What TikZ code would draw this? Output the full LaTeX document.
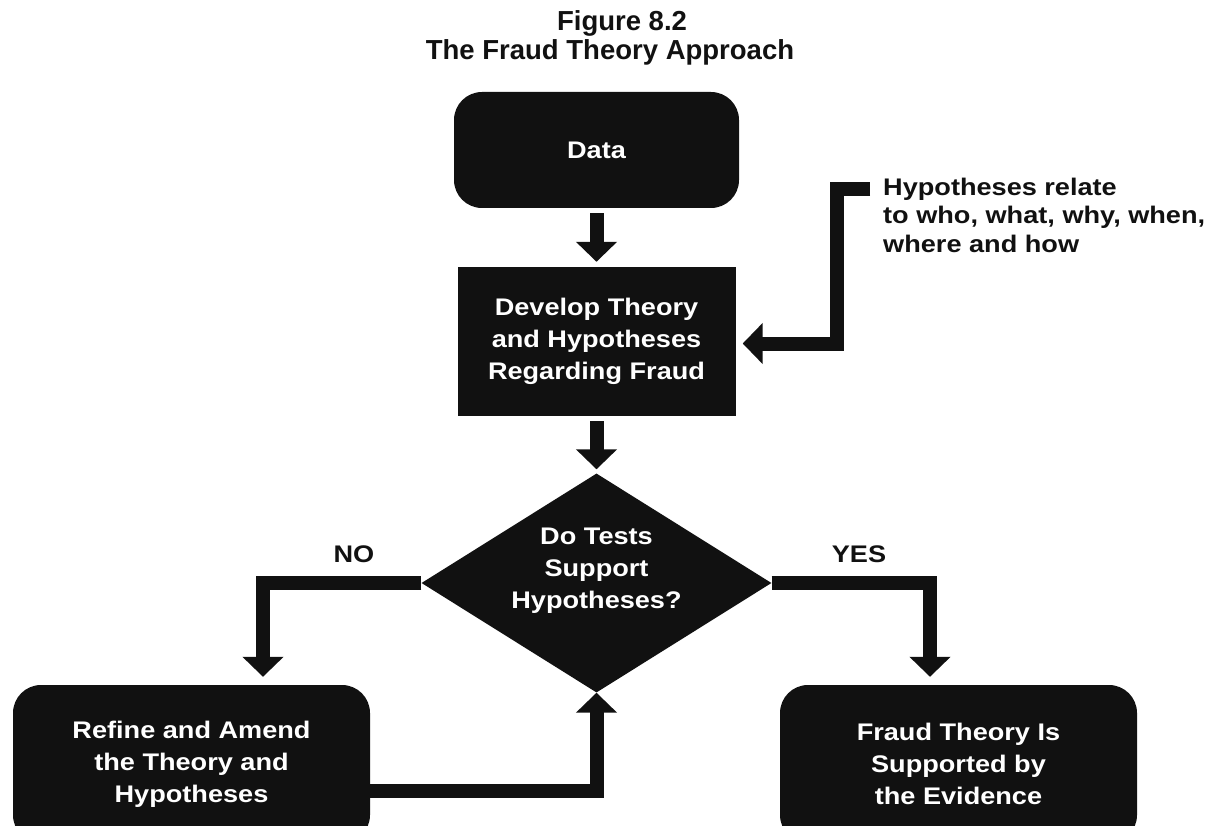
\documentclass[tikz,border=0pt]{standalone}
\usepackage{fontspec}
\setmainfont{Liberation Sans}[FakeStretch=1.13]
\newfontfamily\headfont{Liberation Sans}
\usetikzlibrary{arrows.meta,shapes.geometric}
\definecolor{ink}{HTML}{111111}

\begin{document}
\begin{tikzpicture}[x=1pt,y=-1pt,
  txt/.style={font=\bfseries\fontsize{24}{32}\selectfont},
  box/.style={fill=ink, text=white, txt, align=center, inner sep=0pt},
  rbox/.style={box, rounded corners=28pt},
  decision/.style={diamond, fill=ink, text=white, txt, inner sep=0pt,
    aspect=1.6, minimum width=350pt, minimum height=219pt},
  tag/.style={txt, text=ink, inner sep=0pt},
  head/.style={font=\headfont\bfseries\fontsize{27.5}{30}\selectfont, text=ink, inner sep=0pt},
  flow/.style={draw=ink, line width=14pt, -{Triangle[width=40pt,length=20pt]}},
]
% canvas
\fill[white] (0,0) rectangle (1212,826);
\useasboundingbox (0,0) rectangle (1212,826);

% title
\node[head, anchor=base] (title1) at (622,31) {Figure 8.2};
\node[head, anchor=base] (title2) at (610,60) {The Fraud Theory Approach};

% process steps
\node[rbox, minimum width=285pt, minimum height=116pt] (data) at (596.5,150) {Data};
\node[box, minimum width=278pt, minimum height=149pt] (dev) at (596.5,341.5)
  {Develop Theory\\and Hypotheses\\Regarding Fraud};
% the question sits a little above the diamond's centre
\node[decision] (test) at (596.5,583)
  {\raisebox{7pt}[0pt][0pt]{\begin{tabular}{@{}c@{}}Do Tests\\Support\\Hypotheses?\end{tabular}}};
\node[rbox, minimum width=357pt, minimum height=158pt] (refine) at (191.5,764)
  {Refine and Amend\\the Theory and\\Hypotheses};
\node[rbox, minimum width=357pt, minimum height=158pt] (fraud) at (958.5,764)
  {Fraud Theory Is\\Supported by\\the Evidence};

% side note
\node[tag, align=left, anchor=north west, font=\bfseries\fontsize{24}{28.5}\selectfont]
  (hyp) at (883,177.5) {Hypotheses relate\\to who, what, why, when,\\where and how};
\coordinate (fb) at (870,189.5);

% branch labels
\node[tag] (no) at (354,554) {NO};
\node[tag] (yes) at (859,554) {YES};

% connectors
\draw[flow, shorten <=5pt, shorten >=5pt] (data.south) -- (dev.north);
\draw[flow, shorten <=5pt, shorten >=4pt] (dev.south) -- (test.north);
\draw[flow, shorten >=8pt] (test.west) -| ([xshift=71.5pt]refine.north);
\draw[flow, shorten >=8pt] (test.east) -| ([xshift=-28.5pt]fraud.north);
\draw[flow] ([yshift=-27pt]refine.east) -| (test.south);
\draw[flow, shorten >=7pt] (fb) -- ++(-33.5,0) |- ([yshift=-2pt]dev.east);
\end{tikzpicture}
\end{document}
